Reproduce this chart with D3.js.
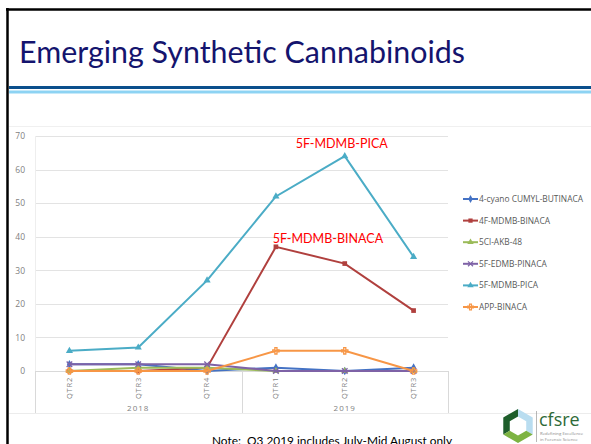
<!DOCTYPE html>
<html><head><meta charset="utf-8">
<script src="https://cdn.jsdelivr.net/npm/d3@7"></script>
<style>html,body{margin:0;padding:0;background:#fff;overflow:hidden}</style>
</head><body><svg id="c" width="591" height="444"></svg>
<script>
const quarters = ["QTR2","QTR3","QTR4","QTR1","QTR2","QTR3"];
const years = ["2018","2018","2018","2019","2019","2019"];
const yearGroups = ["2018","2019"];
const seriesNames = ["4-cyano CUMYL-BUTINACA","4F-MDMB-BINACA","5Cl-AKB-48","5F-EDMB-PINACA","5F-MDMB-PICA","APP-BINACA"];
const cyanoCumylButinaca = [2,2,0,1,0,1];
const fluoroMdmbBinaca = [0,0,1,37,32,18];
const clAkb48 = [0,1,1,0,0,0];
const edmbPinaca = [2,2,2,0,0,0];
const mdmbPica = [6,7,27,52,64,34];
const appBinaca = [0,0,0,6,6,0];
const yTicks = [0,10,20,30,40,50,60,70];
const annotations = [{text:"5F-MDMB-PICA", series:4, idx:4},{text:"5F-MDMB-BINACA", series:1, idx:3}];

const seriesValues = [cyanoCumylButinaca, fluoroMdmbBinaca, clAkb48, edmbPinaca, mdmbPica, appBinaca];
const colors = ["#4472C4","#B0403E","#9BBB59","#7E62A6","#4BACC6","#F79646"];
const symbols = [d3.symbolDiamond, d3.symbolSquare, d3.symbolTriangle, d3.symbolX, d3.symbolTriangle, d3.symbolCross];

const svg = d3.select("#c");
// frame
svg.append("line").attr("x1",7.5).attr("x2",7.5).attr("y1",8).attr("y2",444).attr("stroke","#000").attr("stroke-width",2.5);
svg.append("line").attr("x1",6).attr("x2",591).attr("y1",9.5).attr("y2",9.5).attr("stroke","#000").attr("stroke-width",2.5);
// title
svg.append("text").attr("x",19).attr("y",63).text("Emerging Synthetic Cannabinoids")
  .attr("font-family","Lato, 'Open Sans', sans-serif").attr("font-size",31).attr("fill","#14146E")
  .attr("textLength",446).attr("lengthAdjust","spacingAndGlyphs");
svg.append("rect").attr("x",9).attr("y",86).attr("width",582).attr("height",3).attr("fill","#0A4F8C");
svg.append("rect").attr("x",9).attr("y",90.5).attr("width",582).attr("height",3).attr("fill","#8DD3F3");
// chart frame
svg.append("line").attr("x1",9).attr("x2",591).attr("y1",126.5).attr("y2",126.5).attr("stroke","#f0f0f0");
svg.append("line").attr("x1",9).attr("x2",591).attr("y1",413.5).attr("y2",413.5).attr("stroke","#ececec");

const keys = quarters.map((q,i)=>years[i]+"-"+q);
const x = d3.scaleBand().domain(keys).range([35,448]).padding(0);
const cx = i => x(keys[i]) + x.bandwidth()/2;
const y = d3.scaleLinear().domain([0,70]).range([371,136]);

// gridlines
const g = svg.append("g");
g.selectAll(".grid").data(yTicks.filter(t=>t>0)).join("line")
  .attr("x1",35).attr("x2",448).attr("y1",d=>Math.round(y(d))+0.5).attr("y2",d=>Math.round(y(d))+0.5)
  .attr("stroke","#e3e3e3").attr("stroke-width",1);
g.append("line").attr("x1",35).attr("x2",448).attr("y1",Math.round(y(0))+0.5).attr("y2",Math.round(y(0))+0.5).attr("stroke","#d9d9d9");
// y axis labels
const yAxis = d3.axisLeft(y).tickValues(yTicks).tickSize(0).tickPadding(0);
const ya = svg.append("g").attr("transform","translate(25,0)").call(yAxis);
ya.select(".domain").remove();
ya.selectAll("text").attr("font-family","'Open Sans', sans-serif").attr("font-size",8.5).attr("fill","#7f7f7f");

// group separators
const groupEdges = [0,3,6].map(i => i<6 ? x(keys[i]) : 448);
svg.selectAll(".sep").data(groupEdges).join("line")
  .attr("x1",d=>Math.round(d)+0.5).attr("x2",d=>Math.round(d)+0.5).attr("y1",371).attr("y2",413)
  .attr("stroke","#d9d9d9");
svg.append("line").attr("x1",35.5).attr("x2",35.5).attr("y1",136).attr("y2",371).attr("stroke","#eeeeee");

// x tick labels
const xAxis = d3.axisBottom(x).tickSize(0).tickFormat((d,i)=>quarters[i]);
const xa = svg.append("g").attr("transform","translate(0,371)").call(xAxis);
xa.select(".domain").remove();
xa.selectAll("text").attr("transform","rotate(-90)").attr("text-anchor","end")
  .attr("x",-6).attr("y",0).attr("dy","0.32em")
  .attr("font-family","'Open Sans', sans-serif").attr("font-size",7.5).attr("letter-spacing",0.8).attr("fill","#7f7f7f");
// year labels
yearGroups.forEach((yr,k)=>{
  const idx = years.map((v,i)=>v===yr?i:-1).filter(i=>i>=0);
  const mid = (cx(idx[0])+cx(idx[idx.length-1]))/2;
  svg.append("text").attr("x",mid).attr("y",411).attr("text-anchor","middle").text(yr)
    .attr("font-family","'Open Sans', sans-serif").attr("font-size",8).attr("letter-spacing",1).attr("fill","#7f7f7f");
});

// lines
const line = d3.line().x((d,i)=>cx(i)).y(d=>y(d));
seriesValues.forEach((vals,s)=>{
  svg.append("path").datum(vals).attr("d",line).attr("fill","none").attr("stroke",colors[s]).attr("stroke-width",2);
  svg.selectAll(".m"+s).data(vals).join("path")
    .attr("transform",(d,i)=>`translate(${cx(i)},${y(d)})`)
    .attr("d",d3.symbol().type(symbols[s]).size(22))
    .attr("fill",symbols[s]===d3.symbolX||symbols[s]===d3.symbolCross?"none":colors[s])
    .attr("stroke",colors[s]).attr("stroke-width",symbols[s]===d3.symbolX||symbols[s]===d3.symbolCross?1.3:0);
});

// annotations
const annOffsets = [{dx:-3,dy:-8},{dx:52,dy:-4}];
annotations.forEach((a,k)=>{
  svg.append("text").attr("x",cx(a.idx)+annOffsets[k].dx).attr("y",y(seriesValues[a.series][a.idx])+annOffsets[k].dy)
    .attr("text-anchor","middle").text(a.text)
    .attr("font-family","Lato, 'Open Sans', sans-serif").attr("font-size",12.5).attr("fill","#FF0000");
});

// legend
const legY0 = 199, legStep = 21.6;
seriesNames.forEach((n,s)=>{
  const ly = legY0 + s*legStep;
  svg.append("line").attr("x1",463).attr("x2",478).attr("y1",ly).attr("y2",ly).attr("stroke",colors[s]).attr("stroke-width",2);
  svg.append("path").attr("transform",`translate(470.5,${ly})`).attr("d",d3.symbol().type(symbols[s]).size(18))
    .attr("fill",symbols[s]===d3.symbolX||symbols[s]===d3.symbolCross?"none":colors[s])
    .attr("stroke",colors[s]).attr("stroke-width",symbols[s]===d3.symbolX||symbols[s]===d3.symbolCross?1.2:0);
  svg.append("text").attr("x",479).attr("y",ly).attr("dy","0.35em").text(n)
    .attr("font-family","'Open Sans', sans-serif").attr("font-size",8.4).attr("fill","#595959");
});

// note
svg.append("text").attr("x",212).attr("y",445).attr("text-anchor","start")
  .text("Note:  Q3 2019 includes July-Mid August only")
  .attr("font-family","Lato, 'Open Sans', sans-serif").attr("font-size",12).attr("fill","#000")
  .attr("textLength",240).attr("lengthAdjust","spacingAndGlyphs").attr("xml:space","preserve");

// logo
const lg = svg.append("g").attr("transform","translate(518,426)");
const R = 17, r = 9.5;
const hex = (rad)=>d3.range(6).map(k=>{const a=(-90+60*k)*Math.PI/180;return [rad*Math.cos(a),rad*Math.sin(a)];});
const Ho = hex(R), Hi = hex(r);
const seg = (ids)=>{const o=ids.map(i=>Ho[i]);const inn=ids.slice().reverse().map(i=>Hi[i]);return "M"+o.concat(inn).map(p=>p.join(",")).join("L")+"Z";};
lg.append("path").attr("d",seg([0,5,4])).attr("fill","#1E5E2B");
lg.append("path").attr("d",seg([0,1,2])).attr("fill","#B9DDF0");
lg.append("path").attr("d",seg([4,3,2])).attr("fill","#7DB342");
svg.append("line").attr("x1",536.5).attr("x2",536.5).attr("y1",411).attr("y2",442).attr("stroke","#999").attr("stroke-width",0.7);
svg.append("text").attr("x",539).attr("y",426).text("cfsre").attr("font-family","'Open Sans', sans-serif").attr("font-size",18).attr("fill","#2E6A38");
svg.append("text").attr("x",540).attr("y",435).text("Redefining Excellence").attr("font-family","'Open Sans', sans-serif").attr("font-size",4.3).attr("fill","#888");
svg.append("text").attr("x",540).attr("y",440.5).text("in Forensic Science").attr("font-family","'Open Sans', sans-serif").attr("font-size",4.3).attr("fill","#888");
</script></body></html>
